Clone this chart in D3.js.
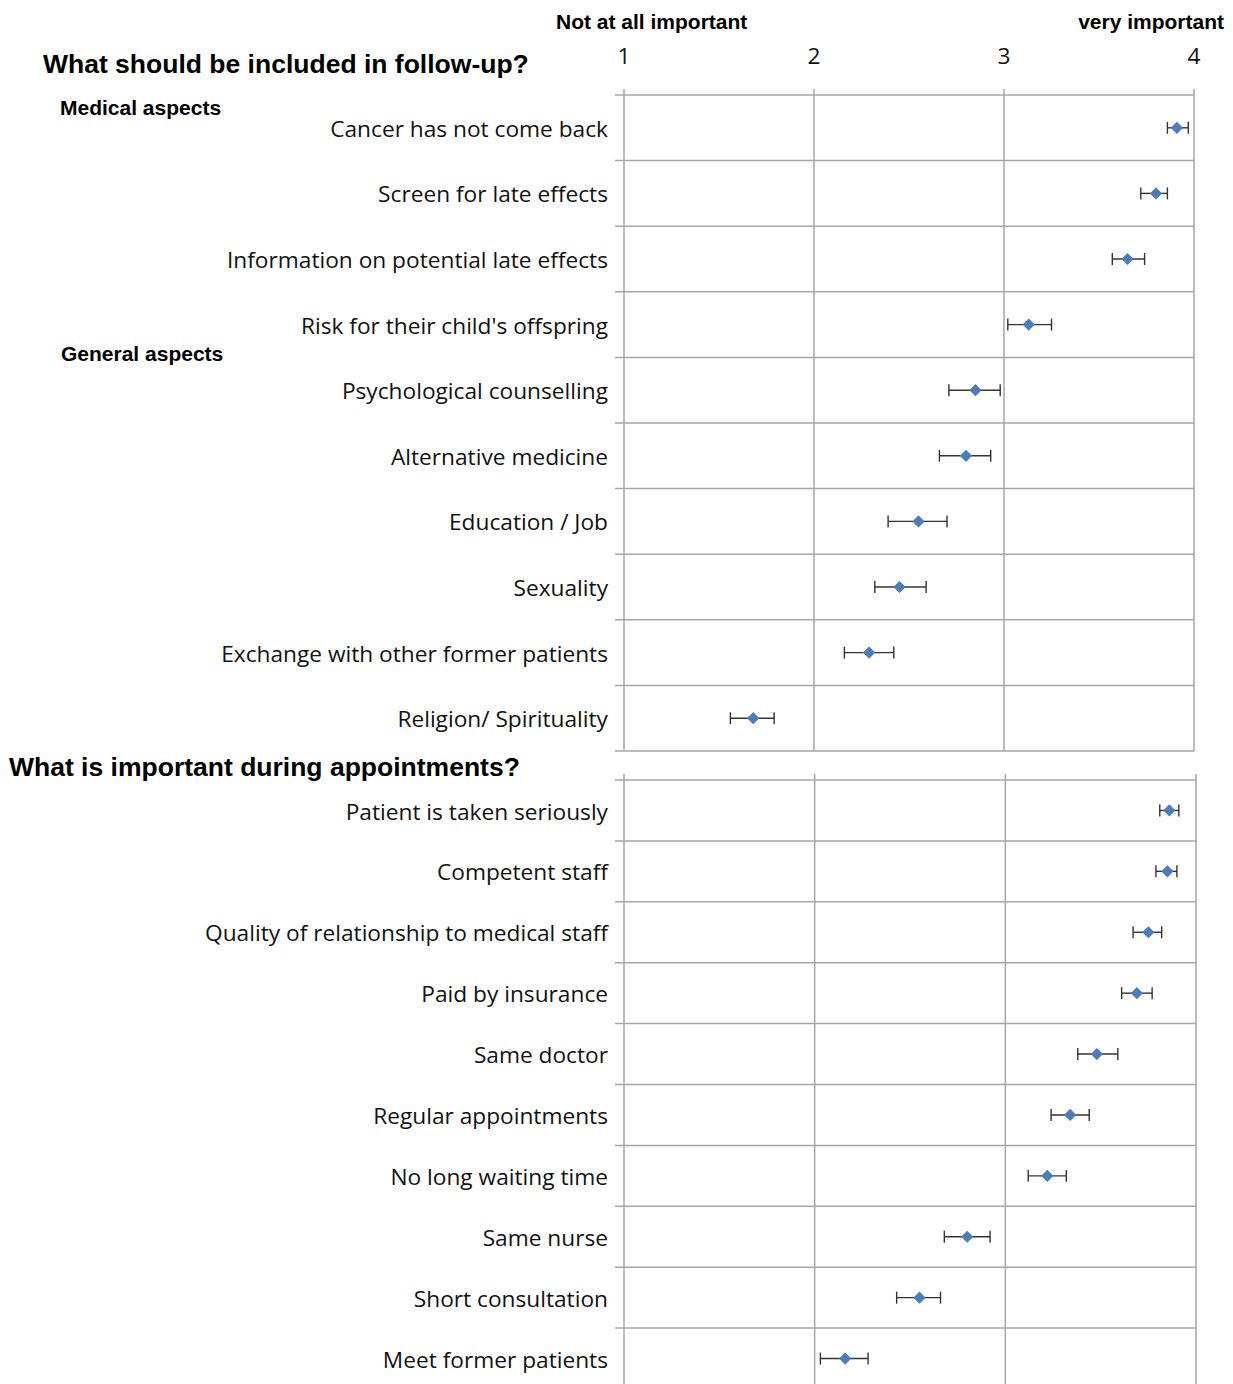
<!DOCTYPE html>
<html>
<head>
<meta charset="utf-8">
<style>
    body, html { margin: 0; padding: 0; background: #fff; overflow: hidden; }
    .lab { font-family: "Open Sans", sans-serif; font-size: 22.7px; fill: #111; }
    .hdr { font-family: "Liberation Sans", Arial, sans-serif; font-weight: bold; fill: #000; }
</style>
</head>
<body>
<svg width="1233" height="1384"></svg>
<script src="https://cdn.jsdelivr.net/npm/d3@7"></script>
<script>
    // follow-up content (top panel)
    var followItems = ["Cancer has not come back", "Screen for late effects", "Information on potential late effects",
        "Risk for their child's offspring", "Psychological counselling", "Alternative medicine", "Education / Job",
        "Sexuality", "Exchange with other former patients", "Religion/ Spirituality"];
    var followMean = [3.91, 3.80, 3.65, 3.13, 2.85, 2.80, 2.55, 2.45, 2.29, 1.68];
    var followLow  = [3.86, 3.72, 3.57, 3.02, 2.71, 2.66, 2.39, 2.32, 2.16, 1.56];
    var followHigh = [3.97, 3.86, 3.74, 3.25, 2.98, 2.93, 2.70, 2.59, 2.42, 1.79];

    // appointments (bottom panel)
    var apptItems = ["Patient is taken seriously", "Competent staff", "Quality of relationship to medical staff",
        "Paid by insurance", "Same doctor", "Regular appointments", "No long waiting time", "Same nurse",
        "Short consultation", "Meet former patients"];
    var apptMean = [3.86, 3.85, 3.75, 3.69, 3.48, 3.34, 3.22, 2.80, 2.55, 2.16];
    var apptLow  = [3.81, 3.79, 3.67, 3.61, 3.38, 3.24, 3.12, 2.68, 2.43, 2.03];
    var apptHigh = [3.91, 3.90, 3.82, 3.77, 3.59, 3.44, 3.32, 2.92, 2.66, 2.28];

    var ticks = [1, 2, 3, 4];

    var svg = d3.select("svg");

    function panel(items, mean, low, high, x0, x1, y0, y1) {
        var x = d3.scaleLinear().domain([1, 4]).range([x0, x1]);
        var y = d3.scaleBand().domain(items).range([y0, y1]);
        var g = svg.append("g");
        var rows = items.map(function (d, i) { return { name: d, m: mean[i], lo: low[i], hi: high[i] }; });
        var mid = function (d) { return y(d) + y.bandwidth() / 2; };

        // vertical grid lines with small ticks above
        g.append("g").selectAll("line").data(ticks).enter().append("line")
            .attr("x1", function (d) { return x(d); }).attr("x2", function (d) { return x(d); })
            .attr("y1", y0 - 6).attr("y2", y1)
            .attr("stroke", "#a6a6a6").attr("stroke-width", 1.5);

        // horizontal row lines
        var bounds = items.map(function (d) { return y(d); }).concat([y1]);
        g.append("g").selectAll("line").data(bounds).enter().append("line")
            .attr("x1", x0 - 9).attr("x2", x1)
            .attr("y1", function (d) { return d; }).attr("y2", function (d) { return d; })
            .attr("stroke", "#a6a6a6").attr("stroke-width", 1.5);

        // category labels
        g.append("g").selectAll("text").data(items).enter().append("text")
            .attr("class", "lab")
            .attr("x", x0 - 16)
            .attr("y", function (d) { return mid(d) + 3; })
            .attr("text-anchor", "end")
            .attr("dominant-baseline", "middle")
            .text(function (d) { return d; });

        var eb = g.append("g").attr("stroke", "#333").attr("stroke-width", 1.4);
        eb.selectAll(".bar").data(rows).enter().append("line")
            .attr("x1", function (d) { return x(d.lo); }).attr("x2", function (d) { return x(d.hi); })
            .attr("y1", function (d) { return mid(d.name); })
            .attr("y2", function (d) { return mid(d.name); });
        ["lo", "hi"].forEach(function (k) {
            eb.selectAll(".cap" + k).data(rows).enter().append("line")
                .attr("x1", function (d) { return x(d[k]); }).attr("x2", function (d) { return x(d[k]); })
                .attr("y1", function (d) { return mid(d.name) - 6; })
                .attr("y2", function (d) { return mid(d.name) + 6; });
        });

        g.append("g").selectAll("path").data(rows).enter().append("path")
            .attr("d", d3.symbol().type(d3.symbolDiamond2).size(95))
            .attr("transform", function (d) { return "translate(" + x(d.m) + "," + mid(d.name) + ")"; })
            .attr("fill", "#4a7ebb");
        return x;
    }

    var xTop = panel(followItems, followMean, followLow, followHigh, 624, 1194, 95, 751);
    panel(apptItems, apptMean, apptLow, apptHigh, 624, 1196, 780, 1389);

    // axis tick labels on top
    svg.append("g").selectAll("text").data(ticks).enter().append("text")
        .attr("class", "lab")
        .attr("x", function (d) { return xTop(d); })
        .attr("y", 64)
        .attr("text-anchor", "middle")
        .text(function (d) { return d; });

    svg.append("text").attr("class", "hdr").attr("x", 556).attr("y", 29).attr("font-size", 21).text("Not at all important");
    svg.append("text").attr("class", "hdr").attr("x", 1224).attr("y", 29).attr("font-size", 21)
        .attr("text-anchor", "end").text("very important");
    svg.append("text").attr("class", "hdr").attr("x", 43).attr("y", 73).attr("font-size", 26.5).text("What should be included in follow-up?");
    svg.append("text").attr("class", "hdr").attr("x", 60).attr("y", 115).attr("font-size", 21).text("Medical aspects");
    svg.append("text").attr("class", "hdr").attr("x", 61).attr("y", 361).attr("font-size", 21).text("General aspects");
    svg.append("text").attr("class", "hdr").attr("x", 9).attr("y", 776).attr("font-size", 26.5).text("What is important during appointments?");
</script>
</body>
</html>
